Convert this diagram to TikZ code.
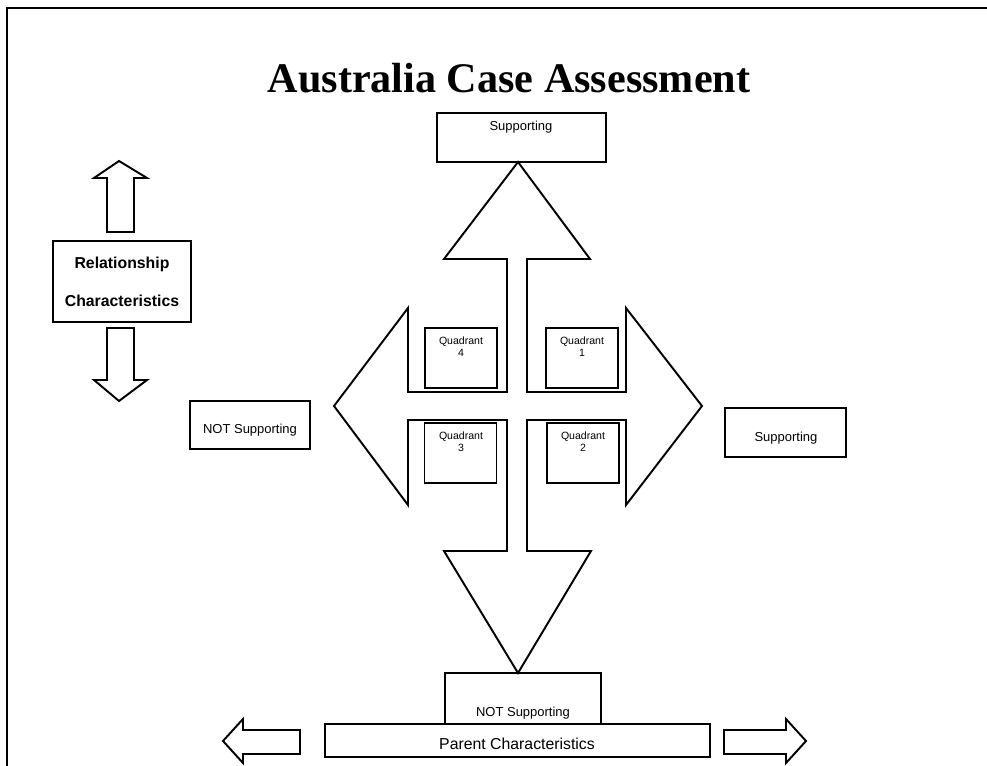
\documentclass[tikz,border=0pt]{standalone}
\usepackage{fontspec}
\setmainfont{Liberation Sans}
\newfontfamily\headfont{Liberation Serif}
\usetikzlibrary{positioning}
\tikzset {
    x=0.02cm,
    y=-0.02cm,
    box/.style={draw, line width=1.1pt, rectangle, inner sep=0pt},
    quad/.style={box, minimum width=1.44cm, minimum height=1.2cm},
    blockarrow/.style={draw, line width=1.1pt, line join=miter},
    small/.style={font=\fontsize{7.4}{9}\selectfont},
    tiny/.style={font=\fontsize{6}{6.8}\selectfont, align=center}
}

\begin{document}
\begin{tikzpicture}
    \useasboundingbox (0,0) rectangle (987,766);
    \draw[line width=1.4pt] (7,766) -- (7,8) -- (987,8);

    \node (title) at (509,78) {\headfont\bfseries\fontsize{24}{28}\selectfont Australia Case Assessment};

    % boxes
    \node[box, minimum width=3.38cm, minimum height=0.98cm] (suptop) at (521.5,137.5) {};
    \node[small] at (521,127) {Supporting};
    \node[box, minimum width=2.76cm, minimum height=1.62cm, align=center,
          font=\bfseries\fontsize{9}{21.6}\selectfont] (rel) at (122,281.5) {Relationship\\Characteristics};
    \node[box, minimum width=2.4cm, minimum height=0.96cm] (notsupL) at (250,425) {};
    \node[small] at (250,430) {NOT Supporting};
    \node[box, minimum width=2.42cm, minimum height=0.98cm] (supR) at (785.5,432.5) {};
    \node[small] at (786,438) {Supporting};
    \node[box, minimum width=3.12cm, minimum height=1.02cm] (notsupB) at (523,698.5) {};
    \node[small] at (523,713) {NOT Supporting};
    \node[box, minimum width=7.7cm, minimum height=0.66cm] (parent) at (517.5,740.5) {};
    \node[font=\fontsize{9}{11}\selectfont] at (517,744) {Parent Characteristics};

    % quadrants
    \node[quad] (q4) at (461,358) {};
    \node[quad] (q1) at (582,358) {};
    \node[quad] (q3) at (460.5,453) {};
    \node[quad] (q2) at (583,453) {};
    \node[tiny] at (461,347) {Quadrant\\4};
    \node[tiny] at (582,347) {Quadrant\\1};
    \node[tiny] at (461,442) {Quadrant\\3};
    \node[tiny] at (583,442) {Quadrant\\2};

    % four way arrow
    \draw[blockarrow] (444,259) -- (507,259) -- (507,392) -- (408,392) -- (408,308)
        -- (334,406) -- (408,505) -- (408,420) -- (507,420) -- (507,551) -- (444,551)
        -- (518,673) -- (591,551) -- (527,551) -- (527,420) -- (626,420) -- (626,505)
        -- (702,406) -- (626,308) -- (626,392) -- (527,392) -- (527,259) -- (590,259)
        -- (518,162) -- cycle;

    % small arrows
    \draw[blockarrow] (107,232) -- (107,178) -- (94,178) -- (119,161) -- (147,178) -- (134,178) -- (134,232) -- cycle;
    \draw[blockarrow] (107,328) -- (107,380) -- (94,380) -- (119,401) -- (147,380) -- (134,380) -- (134,328) -- cycle;
    \draw[blockarrow] (300,730) -- (243,730) -- (243,719) -- (223,741) -- (243,763) -- (243,754) -- (300,754) -- cycle;
    \draw[blockarrow] (724,730) -- (786,730) -- (786,719) -- (806,741) -- (786,763) -- (786,754) -- (724,754) -- cycle;
\end{tikzpicture}
\end{document}
